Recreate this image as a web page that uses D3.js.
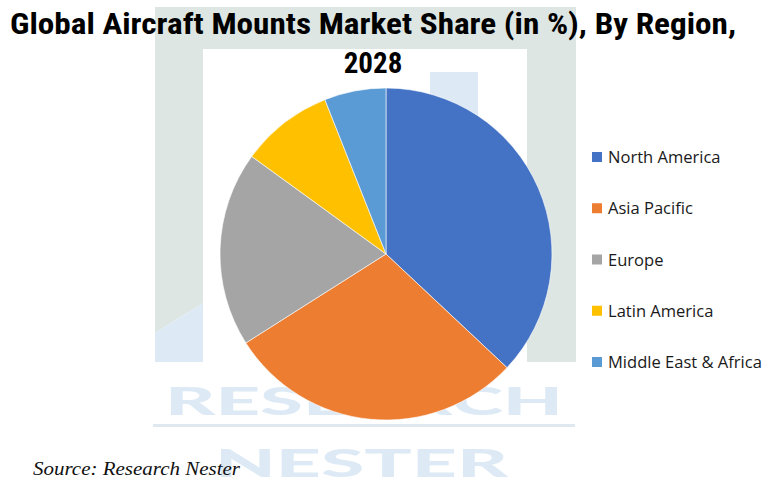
<!DOCTYPE html>
<html>
<head>
<meta charset="utf-8">
<script src="https://cdn.jsdelivr.net/npm/d3@7"></script>
<style>
  html, body { margin: 0; padding: 0; background: #ffffff; }
  svg { display: block; }
</style>
</head>
<body>
<svg id="chart" width="769" height="487"></svg>
<script>
const categories = ["North America", "Asia Pacific", "Europe", "Latin America", "Middle East & Africa"];
const shares = [37, 29, 19, 9, 6];
const colors = ["#4472C4", "#ED7D31", "#A5A5A5", "#FFC000", "#5B9BD5"];
const titleLines = ["Global Aircraft Mounts Market Share (in %), By Region,", "2028"];
const sourceText = "Source: Research Nester";

const svg = d3.select("#chart");

// ---- watermark (background logo) ----
const wm = svg.append("g").attr("class", "watermark");
const wmGray = "#dde6e2", wmBlue = "#ddeaf5";
wm.append("rect").attr("x", 155).attr("y", 7).attr("width", 421).attr("height", 42).attr("fill", wmGray);
wm.append("path").attr("d", "M155,49 L203,49 L203,303 L155,333 Z").attr("fill", wmGray);
wm.append("path").attr("d", "M155,333 L203,303 L203,362 L155,362 Z").attr("fill", wmBlue);
wm.append("rect").attr("x", 527).attr("y", 49).attr("width", 49).attr("height", 313).attr("fill", wmGray);
wm.append("rect").attr("x", 430).attr("y", 72).attr("width", 48).attr("height", 150).attr("fill", wmBlue);
wm.append("rect").attr("x", 153).attr("y", 424).attr("width", 422).attr("height", 3).attr("fill", "#dfe8ee");
const wmFont = "Lato, 'DejaVu Sans', sans-serif";
wm.append("text").attr("x", 165).attr("y", 415)
  .style("font-family", wmFont).attr("font-weight", 900).attr("font-size", 37)
  .attr("fill", wmBlue).attr("textLength", 398).attr("lengthAdjust", "spacingAndGlyphs")
  .text("RESEARCH");
wm.append("text").attr("x", 215).attr("y", 477)
  .style("font-family", wmFont).attr("font-weight", 900).attr("font-size", 37)
  .attr("fill", wmBlue).attr("textLength", 293).attr("lengthAdjust", "spacingAndGlyphs")
  .text("NESTER");

// ---- title ----
const titleFont = "'Liberation Sans Narrow', 'Roboto Condensed', 'Open Sans', sans-serif";
svg.append("text").attr("x", 10).attr("y", 34)
  .style("font-family", titleFont).attr("font-weight", "bold").attr("font-size", 29)
  .attr("fill", "#000").attr("textLength", 726).attr("lengthAdjust", "spacingAndGlyphs")
  .text(titleLines[0]);
svg.append("text").attr("x", 373).attr("y", 73).attr("text-anchor", "middle")
  .style("font-family", titleFont).attr("font-weight", "bold").attr("font-size", 29)
  .attr("fill", "#000")
  .text(titleLines[1]);

// ---- pie ----
const cx = 386, cy = 254, R = 166;
const pie = d3.pie().sort(null).value(d => d)(shares);
const arc = d3.arc().innerRadius(0).outerRadius(R);
const color = d3.scaleOrdinal().domain(categories).range(colors);
svg.append("g").attr("transform", `translate(${cx},${cy})`)
  .selectAll("path").data(pie).join("path")
  .attr("d", arc)
  .attr("fill", (d, i) => color(categories[i]))
  .attr("stroke", "#ffffff").attr("stroke-width", 0.6);

// ---- legend ----
const legendY = d3.scalePoint().domain(categories).range([157, 362]);
const lg = svg.append("g");
const items = lg.selectAll("g").data(categories).join("g")
  .attr("transform", d => `translate(592,${legendY(d)})`);
items.append("rect").attr("x", 0).attr("y", -5).attr("width", 10).attr("height", 10)
  .attr("fill", d => color(d));
const ltexts = items.append("text").attr("x", 16).attr("y", 6)
  .style("font-family", "'Open Sans', 'Noto Sans', sans-serif").attr("font-size", 16)
  .attr("fill", "#1a1a1a").text(d => d);
const longest = ltexts.filter(d => d === "Middle East & Africa").node();
const w = longest.getComputedTextLength();
ltexts.attr("font-size", 16 * 154 / w);

// ---- source ----
svg.append("text").attr("x", 33).attr("y", 475)
  .style("font-family", "'Liberation Serif', 'DejaVu Serif', serif").attr("font-style", "italic")
  .attr("font-size", 18).attr("fill", "#111")
  .attr("textLength", 207).attr("lengthAdjust", "spacingAndGlyphs")
  .text(sourceText);
</script>
</body>
</html>
